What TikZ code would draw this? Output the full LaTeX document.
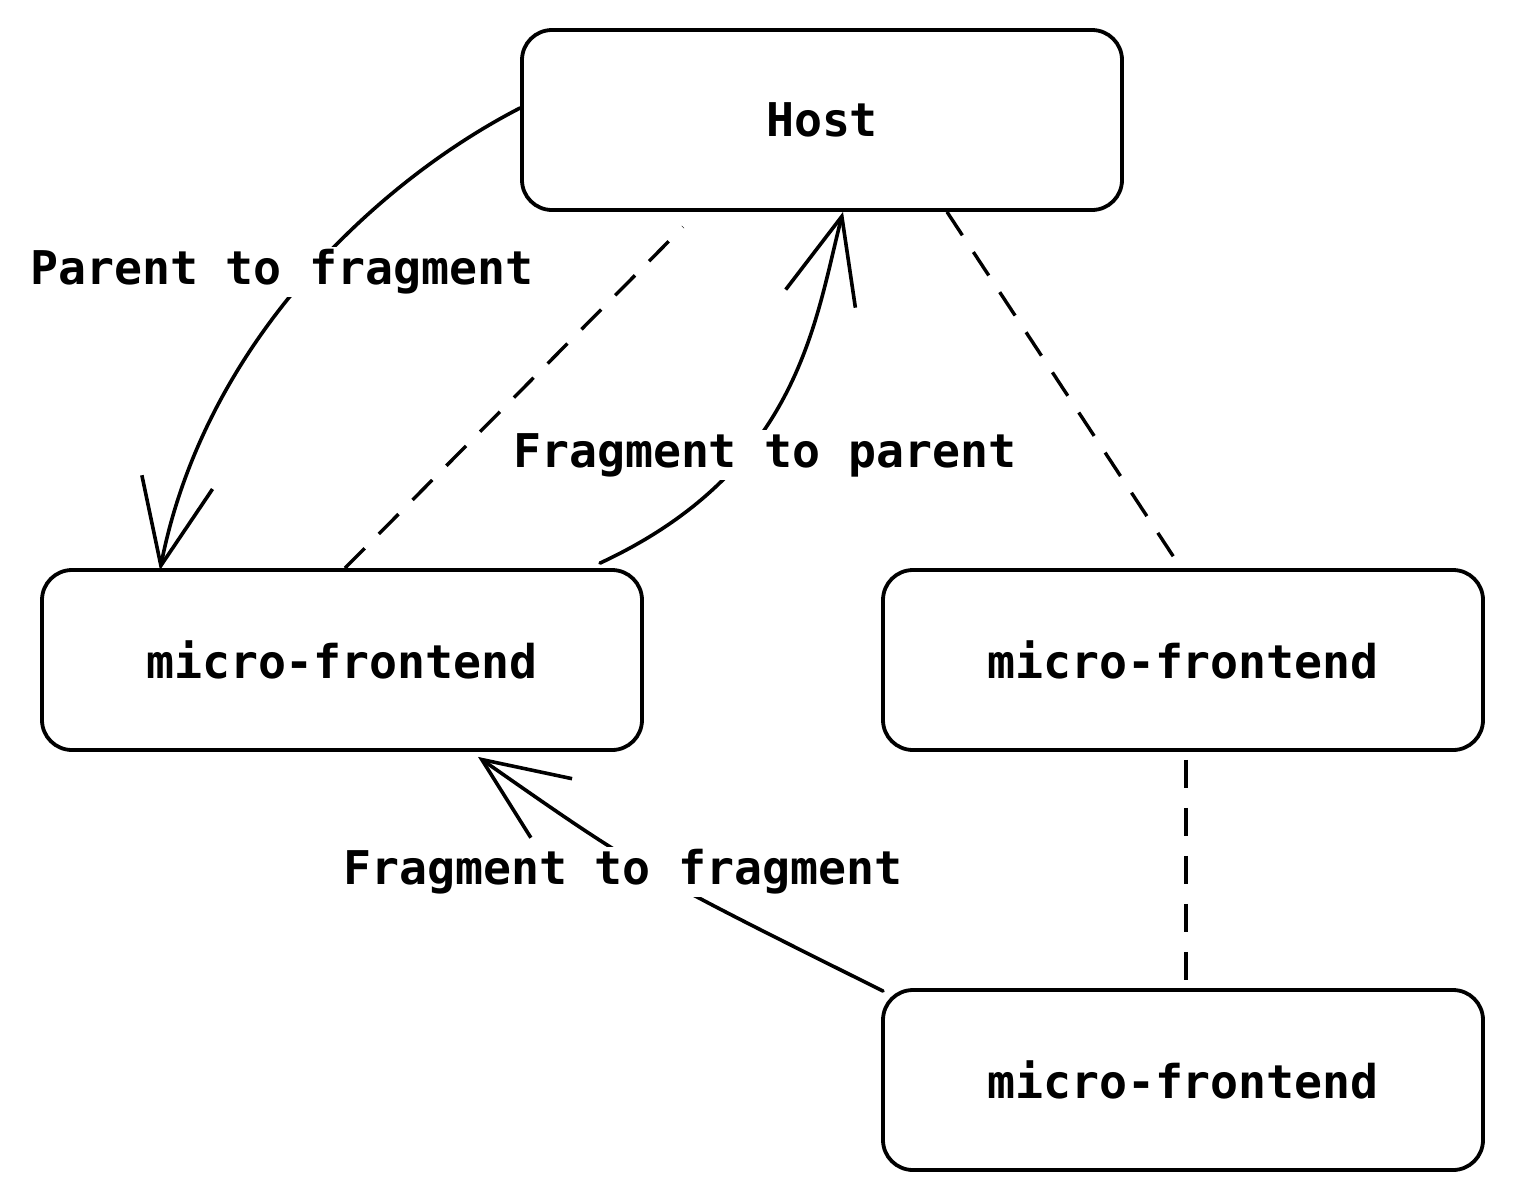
\documentclass[tikz,border=0pt]{standalone}
\usepackage{fontspec}
\newfontfamily\monofont{DejaVu Sans Mono}
\usetikzlibrary{arrows.meta}
\begin{document}
\begin{tikzpicture}[x=1pt,y=-1pt,
  txt/.style={font=\monofont\bfseries\fontsize{46.5}{50}\selectfont},
  box/.style={txt, draw=black, line width=3.8pt, rounded corners=30pt,
    minimum width=600pt, minimum height=180pt, inner sep=0pt},
  lbl/.style={txt, fill=white, inner sep=3pt},
  conn/.style={line width=3.6pt, line cap=round,
    -{Straight Barb[length=85pt,width=72pt,line width=3.6pt]}},
  dashline/.style={line width=3.4pt, dash pattern=on 28pt off 20pt}
]
\useasboundingbox (0,0) rectangle (1513,1200);
\node[box] (host) at (822,120) {Host};
\node[box] (mf1) at (342,660) {micro-frontend};
\node[box] (mf2) at (1183,660) {micro-frontend};
\node[box] (mf3) at (1183,1080) {micro-frontend};

% dashed links
\draw[dashline] ([xshift=3pt]mf1.north) -- ([xshift=-139pt,yshift=-15pt]host.south);
\draw[dashline] ([xshift=125pt]host.south) -- ([xshift=-2pt]mf2.north);
\draw[dashline] ([xshift=3pt,yshift=-8pt]mf2.south) -- ([xshift=3pt]mf3.north);

% arrows
\draw[conn] ([yshift=12pt]host.west) .. controls (380,180) and (205,340) .. ([xshift=-182pt,yshift=-2pt]mf1.north);
\draw[conn] ([xshift=258pt,yshift=5pt]mf1.north) .. controls (800,470) and (815,320) .. ([xshift=21pt]host.south);
\draw[conn] ([xshift=2pt,yshift=-3pt]mf3.north west) .. controls (640,870) .. ([xshift=136pt,yshift=-5pt]mf1.south);

% labels
\node[lbl] (l1) at (282,272) {Parent to fragment};
\node[lbl] (l2) at (765,455) {Fragment to parent};
\node[lbl] (l3) at (623,872) {Fragment to fragment};
\end{tikzpicture}
\end{document}
